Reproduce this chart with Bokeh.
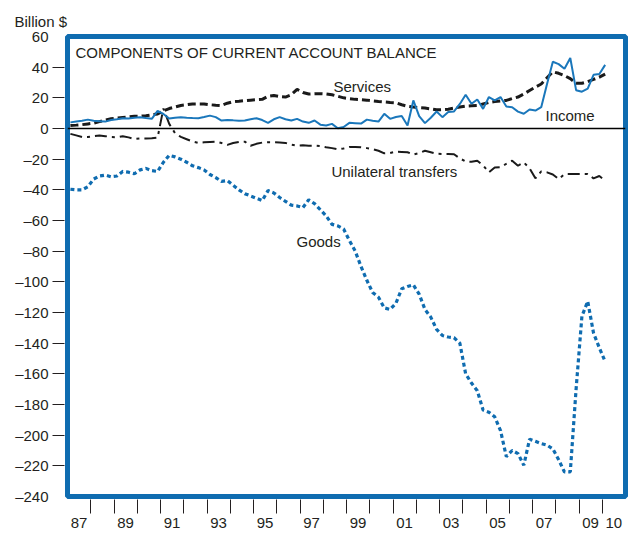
import pandas as pd
from bokeh.plotting import figure
from bokeh.models import FixedTicker, Label, Span, Range1d, Title
from bokeh.embed import file_html
from bokeh.resources import INLINE

# Quarterly periods, 1987Q1 .. 2010Q1
periods = pd.period_range("1987Q1", "2010Q1", freq="Q")
quarter_x = [p.year + (p.quarter - 0.5) / 4 for p in periods]

goods = [-39.6, -40, -40, -38, -33, -31, -30.4, -31.5, -31, -28,
         -28.5, -29.5, -27, -26, -27.5, -28, -22, -17.5, -18.5, -20,
         -22, -24.3, -25.5, -27, -30, -32, -34.5, -34, -37, -40,
         -42.5, -44, -45.5, -47, -40.5, -42, -45, -47.5, -50, -50.5,
         -51.6, -46.5, -49, -53, -57, -62.5, -63.5, -65.5, -73, -80,
         -90, -99, -107, -110, -117, -118, -114, -104.5, -103, -102,
         -108, -118, -123, -131, -135, -136, -136.5, -140, -160, -166,
         -171, -183.6, -185, -188, -197, -214, -210, -212, -219.6, -202.6,
         -204, -205.5, -206.5, -209, -216, -224, -224, -170, -122.5, -112.7,
         -133.4, -143, -152]

services = [2, 2.2, 2.5, 3, 3.5, 4.5, 5.5, 6.3, 6.8, 7.2,
            7.6, 8, 8, 8.3, 8.9, 9.5, 11.5, 13, 14, 15,
            15.5, 16, 16, 16, 15.5, 15.2, 15, 16.5, 17.5, 17.8,
            18.2, 18.5, 18.8, 19, 21, 21.5, 20.8, 20.5, 22, 25.5,
            23.5, 22.5, 22.7, 22.7, 22.5, 22, 21, 20, 19.5, 19,
            18.8, 18.5, 18, 17.6, 17.3, 17, 16.8, 15.5, 14.5, 14,
            13.6, 13.3, 12.8, 12.2, 12.3, 12.6, 13.3, 14, 14.6, 14.8,
            15, 16, 17, 17.6, 18, 18.3, 19.5, 20.5, 22.5, 24.8,
            27, 29, 33, 37, 36, 34.5, 32.5, 29.5, 29.5, 30.5,
            32, 33.5, 35.5]

income = [4, 4.5, 5, 5.8, 5, 4.8, 4.5, 5.5, 6, 6.7,
          6.5, 7, 7.4, 6.8, 6.3, 11.5, 9.5, 6.5, 7, 7.4,
          7, 6.8, 6.7, 7.5, 8.4, 7.4, 5.2, 5.5, 5.3, 5,
          5.2, 6, 6.7, 5.5, 3.7, 6, 7.4, 6, 5.2, 6.3,
          4.5, 3.7, 5.2, 2.5, 2, 3, 0.2, 1, 3.7, 3.5,
          3.2, 5.8, 5, 4.5, 9.6, 6.3, 7.5, 8.1, 1.9, 18.3,
          8.1, 3.5, 7, 11.1, 7.4, 10.7, 11.1, 16, 22, 16.1,
          18.9, 12.8, 20.5, 18.3, 20.5, 14.3, 13.9, 11, 9.6, 12.4,
          11.7, 13.9, 29, 43.5, 42, 39, 46, 25, 24, 26,
          35, 35.5, 41.5]

transfers = [-3.5, -4.5, -5.5, -5.5, -5, -4.6, -5, -5.5, -5.7, -5,
             -5.8, -6.8, -6.5, -6.5, -6.4, -6, 13, 3, -3, -5.5,
             -7, -8.5, -9.4, -9, -8.8, -8.6, -9.5, -10.7, -9.5, -8.8,
             -8.6, -11.2, -10, -9.2, -9, -9, -9.2, -9.4, -10.5, -11.2,
             -11, -11.2, -11.2, -11.5, -12.2, -12.8, -13.6, -13, -12, -12,
             -12.3, -12.8, -13.4, -14.5, -16.2, -16, -15.1, -15.3, -15.5, -17,
             -16, -14.5, -15.5, -16.5, -16.6, -16.6, -16.8, -19.5, -21.5, -21.7,
             -21, -24, -28.6, -25.5, -25.3, -23, -21, -24.3, -22.1, -26,
             -32.5, -28, -28.6, -30, -33, -29.7, -29.7, -29.7, -29.7, -29.7,
             -32.5, -31, -34]

y_ticks = list(range(-240, 61, 20))
year_labels = ["87", "89", "91", "93", "95", "97", "99", "01", "03", "05", "07", "09", "10"]
year_label_pos = [1987.5, 1989.5, 1991.5, 1993.5, 1995.5, 1997.5, 1999.5,
                  2001.5, 2003.5, 2005.5, 2007.5, 2009.5, 2010.5]
year_boundaries = list(range(1988, 2011))

FONT = "Liberation Sans"
TXT = "#231f20"
BLUE = "#0f6cb0"

p = figure(frame_width=558, frame_height=460,
           x_range=Range1d(1987, 2011), y_range=Range1d(-240, 60),
           output_backend="svg", toolbar_location=None,
           min_border_left=67, min_border_right=10,
           min_border_top=36, min_border_bottom=40)
p.xgrid.visible = False
p.ygrid.visible = False
p.outline_line_color = BLUE
p.outline_line_width = 5
p.background_fill_color = "white"
p.border_fill_color = "white"

# y axis
ya = p.yaxis[0]
ya.ticker = FixedTicker(ticks=y_ticks, minor_ticks=y_ticks[1:-1])
ya.major_label_overrides = {t: (("\u2013" + str(-t)) if t < 0 else str(t)) for t in y_ticks}
ya.axis_line_color = None
ya.major_tick_line_color = None
ya.major_tick_out = 15
ya.major_tick_in = 0
ya.minor_tick_line_color = "#231f20"
ya.minor_tick_line_width = 1
ya.minor_tick_out = 15
ya.minor_tick_in = -3
ya.major_label_standoff = 4
ya.major_label_text_font = FONT
ya.major_label_text_font_size = "15px"
ya.major_label_text_color = TXT

# x axis
xa = p.xaxis[0]
xa.ticker = FixedTicker(ticks=year_label_pos, minor_ticks=year_boundaries)
xa.major_label_overrides = dict(zip(year_label_pos, year_labels))
xa.axis_line_color = None
xa.major_tick_line_color = None
xa.major_tick_out = 15
xa.major_tick_in = 0
xa.minor_tick_line_color = "#231f20"
xa.minor_tick_line_width = 1
xa.minor_tick_out = 17
xa.minor_tick_in = -3
xa.major_label_standoff = 4
xa.major_label_text_font = FONT
xa.major_label_text_font_size = "15px"
xa.major_label_text_color = TXT

p.add_layout(Title(text="Billion $", align="left", offset=-53, standoff=13,
                   text_font=FONT, text_font_size="15px", text_font_style="normal",
                   text_color=TXT), "above")

p.add_layout(Span(location=0, dimension="width", line_color="black", line_width=1.5))

p.line(quarter_x, transfers, line_color="#1a1a1a", line_width=2, line_dash="12 5 3 5")
p.line(quarter_x, goods, line_color=BLUE, line_width=3.2, line_dash="4 3")
p.line(quarter_x, services, line_color="#1a1a1a", line_width=3, line_dash="8 4")
p.line(quarter_x, income, line_color="#1a77bb", line_width=2)

def lab(x, y, text):
    p.add_layout(Label(x=x, y=y, text=text, text_font=FONT, text_font_size="15px",
                       text_color=TXT, text_baseline="middle", text_align="left"))

lab(1987.34, 49.6, "COMPONENTS OF CURRENT ACCOUNT BALANCE")
lab(1998.44, 27.4, "Services")
lab(2007.56, 8.5, "Income")
lab(1998.35, -28.0, "Unilateral transfers")
lab(1996.85, -73.7, "Goods")

open("out.html", "w").write(file_html(p, INLINE))
